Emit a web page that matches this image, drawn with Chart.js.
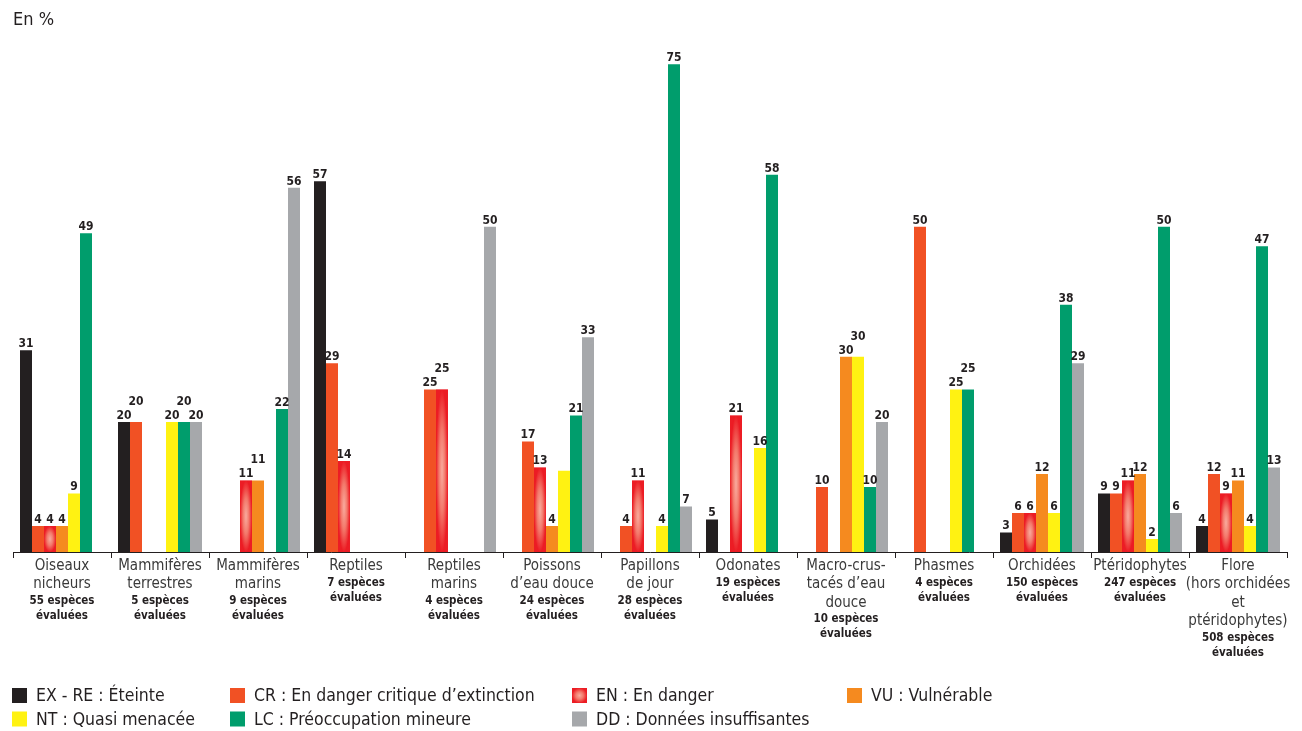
<!DOCTYPE html>
<html lang="fr">
<head>
<meta charset="utf-8">
<title>Liste rouge régionale</title>
<script src="https://cdn.jsdelivr.net/npm/chart.js@4.4.1/dist/chart.umd.min.js"></script>
<style>
    html, body { margin: 0; padding: 0; background: #fff; }
    #wrap { width: 1302px; height: 731px; position: relative; }
</style>
</head>
<body>
<div id="wrap"><canvas id="listeRougeChart"></canvas></div>
<script>
// groupes évalués (lignes du libellé) et nombre d'espèces
const categories = [
    ['Oiseaux', 'nicheurs'],
    ['Mammifères', 'terrestres'],
    ['Mammifères', 'marins'],
    ['Reptiles'],
    ['Reptiles', 'marins'],
    ['Poissons', 'd’eau douce'],
    ['Papillons', 'de jour'],
    ['Odonates'],
    ['Macro-crus-', 'tacés d’eau', 'douce'],
    ['Phasmes'],
    ['Orchidées'],
    ['Ptéridophytes'],
    ['Flore', '(hors orchidées', 'et', 'ptéridophytes)']
];
const especesEvaluees = [55, 5, 9, 7, 4, 24, 28, 19, 10, 4, 150, 247, 508];

// % par catégorie UICN
const exRe = [31, 20, null, 57, null, null, null, 5, null, null, 3, 9, 4];
const cr   = [4, 20, null, 29, 25, 17, 4, null, 10, 50, 6, 9, 12];
const en   = [4, null, 11, 14, 25, 13, 11, 21, null, null, 6, 11, 9];
const vu   = [4, null, 11, null, null, 4, null, null, 30, null, 12, 12, 11];
const nt   = [9, 20, null, null, null, 12.5, 4, 16, 30, 25, 6, 2, 4];
const lc   = [49, 20, 22, null, null, 21, 75, 58, 10, 25, 38, 50, 47];
const dd   = [null, 20, 56, null, 50, 33, 7, null, 20, null, 29, 6, 13];

// barres sans valeur affichée (groupe-série)
const sansEtiquette = ['5-4'];

const POLICE = "'DejaVu Sans Condensed', 'DejaVu Sans', sans-serif";
const TEXTE = '#231f20';

Chart.defaults.font.family = POLICE;
Chart.defaults.color = TEXTE;

// dégradé radial des barres EN
function degradeEN(ctx, x, y, w, h) {
    if (w <= 0 || h <= 0) return;
    ctx.save();
    ctx.beginPath();
    ctx.rect(x, y, w, h);
    ctx.clip();
    ctx.translate(x + w / 2, y + h / 2);
    ctx.scale(w / 2, h / 2);
    const g = ctx.createRadialGradient(0, 0, 0, 0, 0, 1);
    g.addColorStop(0, '#f9ab9e');
    g.addColorStop(0.5, '#f3796b');
    g.addColorStop(1, '#ec1c24');
    ctx.fillStyle = g;
    ctx.fillRect(-1, -1, 2, 2);
    ctx.restore();
}

const degradePlugin = {
    id: 'degradeEN',
    afterDatasetDraw(chart, args) {
        if (args.index !== 2) return;
        const ctx = chart.ctx;
        args.meta.data.forEach(function(el, j) {
            if (en[j] == null) return;
            const p = el.getProps(['x', 'y', 'base', 'width'], true);
            degradeEN(ctx, p.x - p.width / 2, p.y, p.width, p.base - p.y);
        });
    }
};

// valeurs au-dessus des barres, décalées quand deux voisines sont égales
const etiquettesPlugin = {
    id: 'etiquettes',
    afterDatasetsDraw(chart) {
        const ctx = chart.ctx;
        ctx.save();
        ctx.font = 'bold 12px ' + POLICE;
        ctx.fillStyle = TEXTE;
        ctx.textAlign = 'center';
        ctx.textBaseline = 'alphabetic';
        for (let j = 0; j < chart.data.labels.length; j++) {
            let prec = null, precLeve = false;
            chart.data.datasets.forEach(function(ds, i) {
                const v = ds.data[j];
                if (v == null || sansEtiquette.includes(j + '-' + i)) {
                    prec = null; precLeve = false;
                    return;
                }
                const leve = prec === v && !precLeve && v >= 10;
                const el = chart.getDatasetMeta(i).data[j];
                ctx.fillText(String(v), el.x, el.y - 3 - (leve ? 14 : 0));
                prec = v; precLeve = leve;
            });
        }
        ctx.restore();
    }
};

// nombre d'espèces évaluées sous chaque libellé
const effectifsPlugin = {
    id: 'effectifs',
    afterDraw(chart) {
        const ctx = chart.ctx;
        const axe = chart.scales.x;
        const premiere = axe.top + 6 - 1 + 18.4 / 2;
        ctx.save();
        ctx.font = 'bold 11.5px ' + POLICE;
        ctx.fillStyle = TEXTE;
        ctx.textAlign = 'center';
        ctx.textBaseline = 'middle';
        categories.forEach(function(lignes, j) {
            const x = axe.getPixelForTick(j);
            const y = premiere + (lignes.length - 1) * 18.4 + 16.5;
            ctx.fillText(especesEvaluees[j] + ' espèces', x, y);
            ctx.fillText('évaluées', x, y + 15);
        });
        ctx.restore();
    }
};

// légende sur deux lignes
const legendePlugin = {
    id: 'legende',
    afterDraw(chart) {
        const ctx = chart.ctx;
        const colonnes = [12, 230, 572, 847];
        const lignes = [695.5, 719];
        ctx.save();
        ctx.font = '17.5px ' + POLICE;
        ctx.textAlign = 'left';
        ctx.textBaseline = 'middle';
        chart.data.datasets.forEach(function(ds, i) {
            const x = colonnes[i < 4 ? i : i - 4];
            const y = lignes[i < 4 ? 0 : 1];
            if (i === 2) {
                degradeEN(ctx, x, y - 7.5, 15, 15);
            } else {
                ctx.fillStyle = ds.backgroundColor;
                ctx.fillRect(x, y - 7.5, 15, 15);
            }
            ctx.fillStyle = TEXTE;
            ctx.fillText(ds.label, x + 24, y + 1);
        });
        ctx.restore();
    }
};

const ctx = document.getElementById('listeRougeChart').getContext('2d');

new Chart(ctx, {
    type: 'bar',
    data: {
        labels: categories,
        datasets: [
            { label: 'EX - RE : Éteinte', data: exRe, backgroundColor: '#231f20' },
            { label: 'CR : En danger critique d’extinction', data: cr, backgroundColor: '#f15124' },
            { label: 'EN : En danger', data: en, backgroundColor: '#ec1c24' },
            { label: 'VU : Vulnérable', data: vu, backgroundColor: '#f58a1f' },
            { label: 'NT : Quasi menacée', data: nt, backgroundColor: '#fff212' },
            { label: 'LC : Préoccupation mineure', data: lc, backgroundColor: '#009d6c' },
            { label: 'DD : Données insuffisantes', data: dd, backgroundColor: '#a6a8ab' }
        ]
    },
    options: {
        responsive: true,
        maintainAspectRatio: false,
        animation: false,
        categoryPercentage: 84 / 98,
        barPercentage: 1,
        layout: {
            padding: { left: 13, right: 15, top: 0, bottom: 0 }
        },
        plugins: {
            legend: { display: false },
            tooltip: { enabled: false },
            title: {
                display: true,
                text: 'En %',
                align: 'start',
                color: TEXTE,
                font: { size: 18, weight: 'normal', lineHeight: 1.2 },
                padding: { top: 10, bottom: 0 }
            }
        },
        scales: {
            x: {
                grid: {
                    display: true,
                    offset: true,
                    drawOnChartArea: false,
                    drawTicks: true,
                    tickLength: 6,
                    color: TEXTE
                },
                border: { display: true, color: TEXTE, width: 1 },
                ticks: {
                    autoSkip: false,
                    maxRotation: 0,
                    minRotation: 0,
                    padding: -1,
                    color: '#3a3a3a',
                    font: { size: 15, lineHeight: '18.4px' }
                },
                afterFit: function(scale) {
                    scale.height = 179;
                }
            },
            y: {
                display: false,
                min: 0,
                max: 80
            }
        }
    },
    plugins: [degradePlugin, etiquettesPlugin, effectifsPlugin, legendePlugin]
});
</script>
</body>
</html>
